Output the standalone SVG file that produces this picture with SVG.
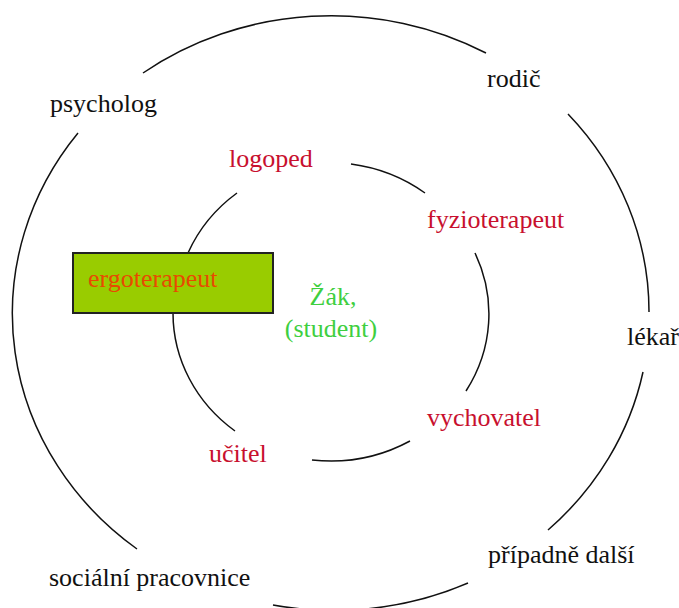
<svg xmlns="http://www.w3.org/2000/svg" width="679" height="608" viewBox="0 0 679 608">
<style>
text{font-family:'Liberation Serif',Tinos,'Times New Roman',serif;font-size:26px}
.k{fill:#111}
.r{fill:#c8102e}
.g{fill:#3fcf3f}
.o{fill:#e84a00}
.c{fill:none;stroke:#111;stroke-width:1.5}
</style>
<rect width="679" height="608" fill="#fff"/>
<g id="connectors">
<path class="c" d="M143,73 A319,297 0 0,1 486,53"/>
<path class="c" d="M568,114 A319,297 0 0,1 649,312"/>
<path class="c" d="M643,372 A319,297 0 0,1 548,530"/>
<path class="c" d="M468,583 A319,297 0 0,1 273,605"/>
<path class="c" d="M137,549 A319,297 0 0,1 78,133"/>
<path class="c" d="M188,253 A159,149 0 0,1 237,193"/>
<path class="c" d="M351,164 A159,149 0 0,1 425,193"/>
<path class="c" d="M475,253 A159,149 0 0,1 466,391"/>
<path class="c" d="M410,441 A159,149 0 0,1 312,460"/>
<path class="c" d="M235,431 A159,149 0 0,1 173,313"/>
</g>
<g id="psycholog"><text class="k" font-family="Liberation Serif, serif" x="50" y="112">psycholog</text></g>
<g id="rodic"><text class="k" font-family="Liberation Serif, serif" x="487" y="87">rodič</text></g>
<g id="lekar"><text class="k" font-family="Liberation Serif, serif" x="627" y="345">lékař</text></g>
<g id="pripadne-dalsi"><text class="k" font-family="Liberation Serif, serif" x="488" y="563">případně další</text></g>
<g id="socialni-pracovnice"><text class="k" font-family="Liberation Serif, serif" x="49" y="586">sociální pracovnice</text></g>
<g id="logoped"><text class="r" font-family="Liberation Serif, serif" x="229" y="167">logoped</text></g>
<g id="fyzioterapeut"><text class="r" font-family="Liberation Serif, serif" x="427" y="228">fyzioterapeut</text></g>
<g id="vychovatel"><text class="r" font-family="Liberation Serif, serif" x="427" y="426">vychovatel</text></g>
<g id="ucitel"><text class="r" font-family="Liberation Serif, serif" x="209" y="462">učitel</text></g>
<g id="ergoterapeut">
<rect x="73" y="253" width="200" height="60" fill="#99cc00" stroke="#222" stroke-width="2"/>
<text class="o" font-family="Liberation Serif, serif" x="88" y="287">ergoterapeut</text>
</g>
<g id="zak">
<text class="g" font-family="Liberation Serif, serif" x="333" y="305" text-anchor="middle">Žák,</text>
<text class="g" font-family="Liberation Serif, serif" x="331" y="337" text-anchor="middle">(student)</text>
</g>
</svg>
